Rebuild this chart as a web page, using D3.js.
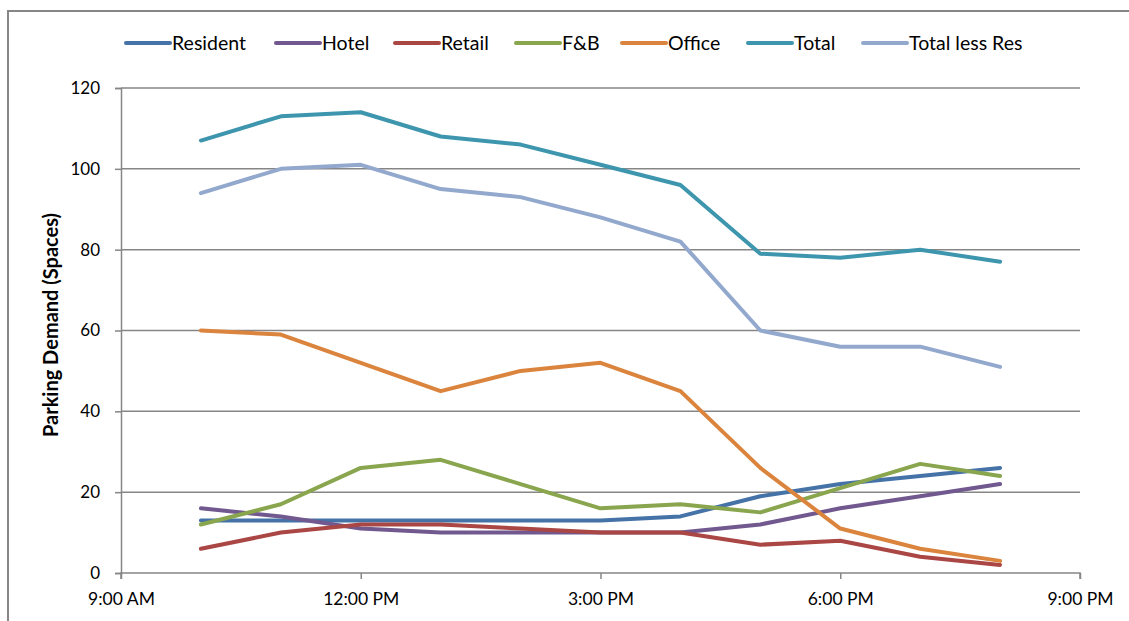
<!DOCTYPE html>
<html>
<head>
<meta charset="utf-8">
<script src="https://cdn.jsdelivr.net/npm/d3@7"></script>
<style>
  html, body { margin: 0; padding: 0; background: #fff; }
  svg { display: block; }
  text { font-family: Lato, "Open Sans", sans-serif; fill: #000; }
</style>
</head>
<body>
<svg id="chart" width="1129" height="621"></svg>
<script>
// Hours of the day (24h clock) at which demand was sampled
const hours = [10, 11, 12, 13, 14, 15, 16, 17, 18, 19, 20];

// Parking demand (spaces) per land use
const resident     = [13, 13, 13, 13, 13, 13, 14, 19, 22, 24, 26];
const hotel        = [16, 14, 11, 10, 10, 10, 10, 12, 16, 19, 22];
const retail       = [6, 10, 12, 12, 11, 10, 10, 7, 8, 4, 2];
const fnb          = [12, 17, 26, 28, 22, 16, 17, 15, 21, 27, 24];
const office       = [60, 59, 52, 45, 50, 52, 45, 26, 11, 6, 3];
const total        = [107, 113, 114, 108, 106, 101, 96, 79, 78, 80, 77];
const totalLessRes = [94, 100, 101, 95, 93, 88, 82, 60, 56, 56, 51];

const seriesNames = ["Resident", "Hotel", "Retail", "F&B", "Office", "Total", "Total less Res"];
const seriesValues = [resident, hotel, retail, fnb, office, total, totalLessRes];
const seriesColors = ["#4572A7", "#71588F", "#AA4643", "#89A54E", "#DB843D", "#3D96AE", "#92A8CD"];

// Axis ticks
const yTicks = [0, 20, 40, 60, 80, 100, 120];
const xTickHours = [9, 12, 15, 18, 21];
const xTickLabels = ["9:00 AM", "12:00 PM", "3:00 PM", "6:00 PM", "9:00 PM"];

const svg = d3.select("#chart");
const gray = "#868686";

// Outer chart frame
svg.append("path")
  .attr("d", "M8,621V11H1129")
  .attr("fill", "none")
  .attr("stroke", gray)
  .attr("stroke-width", 2);

const plot = { left: 121, right: 1080, top: 88, bottom: 573 };

const x = d3.scaleLinear().domain([9, 21]).range([plot.left, plot.right]);
const y = d3.scaleLinear().domain([0, 120]).range([plot.bottom, plot.top]);

// Horizontal gridlines
svg.append("g")
  .selectAll("line")
  .data(yTicks.filter(d => d > 0))
  .join("line")
  .attr("x1", plot.left).attr("x2", plot.right)
  .attr("y1", d => y(d)).attr("y2", d => y(d))
  .attr("stroke", gray).attr("stroke-width", 1.5);

// Y axis
const yAxis = svg.append("g")
  .attr("transform", `translate(${plot.left},0)`)
  .call(d3.axisLeft(y).tickValues(yTicks).tickSize(6).tickPadding(15).tickFormat(d3.format("d")));
yAxis.select(".domain").attr("stroke", gray).attr("stroke-width", 1.5);
yAxis.selectAll(".tick line").attr("stroke", gray).attr("stroke-width", 1.5);
yAxis.selectAll(".tick text")
  .attr("font-size", 17).attr("font-family", "Lato, sans-serif").attr("fill", "#000");

// X axis
const xAxis = svg.append("g")
  .attr("transform", `translate(0,${plot.bottom})`)
  .call(d3.axisBottom(x).tickValues(xTickHours).tickSize(6).tickPadding(14)
    .tickFormat((d, i) => xTickLabels[i]));
xAxis.select(".domain").attr("stroke", gray).attr("stroke-width", 1.5)
  .attr("d", `M${plot.left},6V0H${plot.right}V6`);
xAxis.selectAll(".tick line").attr("stroke", gray).attr("stroke-width", 1.5);
xAxis.selectAll(".tick text")
  .attr("font-size", 17.5).attr("font-family", "Lato, sans-serif").attr("fill", "#000");

// Y axis title
svg.append("text")
  .attr("transform", "translate(58,325) rotate(-90)")
  .attr("text-anchor", "middle")
  .attr("font-size", 20)
  .attr("font-weight", "bold")
  .text("Parking Demand (Spaces)");

// Series lines
const line = d3.line()
  .x((d, i) => x(hours[i]))
  .y(d => y(d));

svg.append("g")
  .selectAll("path")
  .data(seriesValues)
  .join("path")
  .attr("d", d => line(d))
  .attr("fill", "none")
  .attr("stroke", (d, i) => seriesColors[i])
  .attr("stroke-width", 4)
  .attr("stroke-linejoin", "round")
  .attr("stroke-linecap", "round");

// Legend
const legendX = [126, 276, 395, 516, 622, 748, 863];
const legend = svg.append("g").attr("transform", "translate(0,43)");
const items = legend.selectAll("g")
  .data(seriesNames)
  .join("g")
  .attr("transform", (d, i) => `translate(${legendX[i]},0)`);
items.append("line")
  .attr("x1", 0).attr("x2", 44)
  .attr("stroke", (d, i) => seriesColors[i])
  .attr("stroke-width", 4)
  .attr("stroke-linecap", "round");
items.append("text")
  .attr("x", 46).attr("dy", "0.35em")
  .attr("font-size", 19.5)
  .text(d => d);
</script>
</body>
</html>
